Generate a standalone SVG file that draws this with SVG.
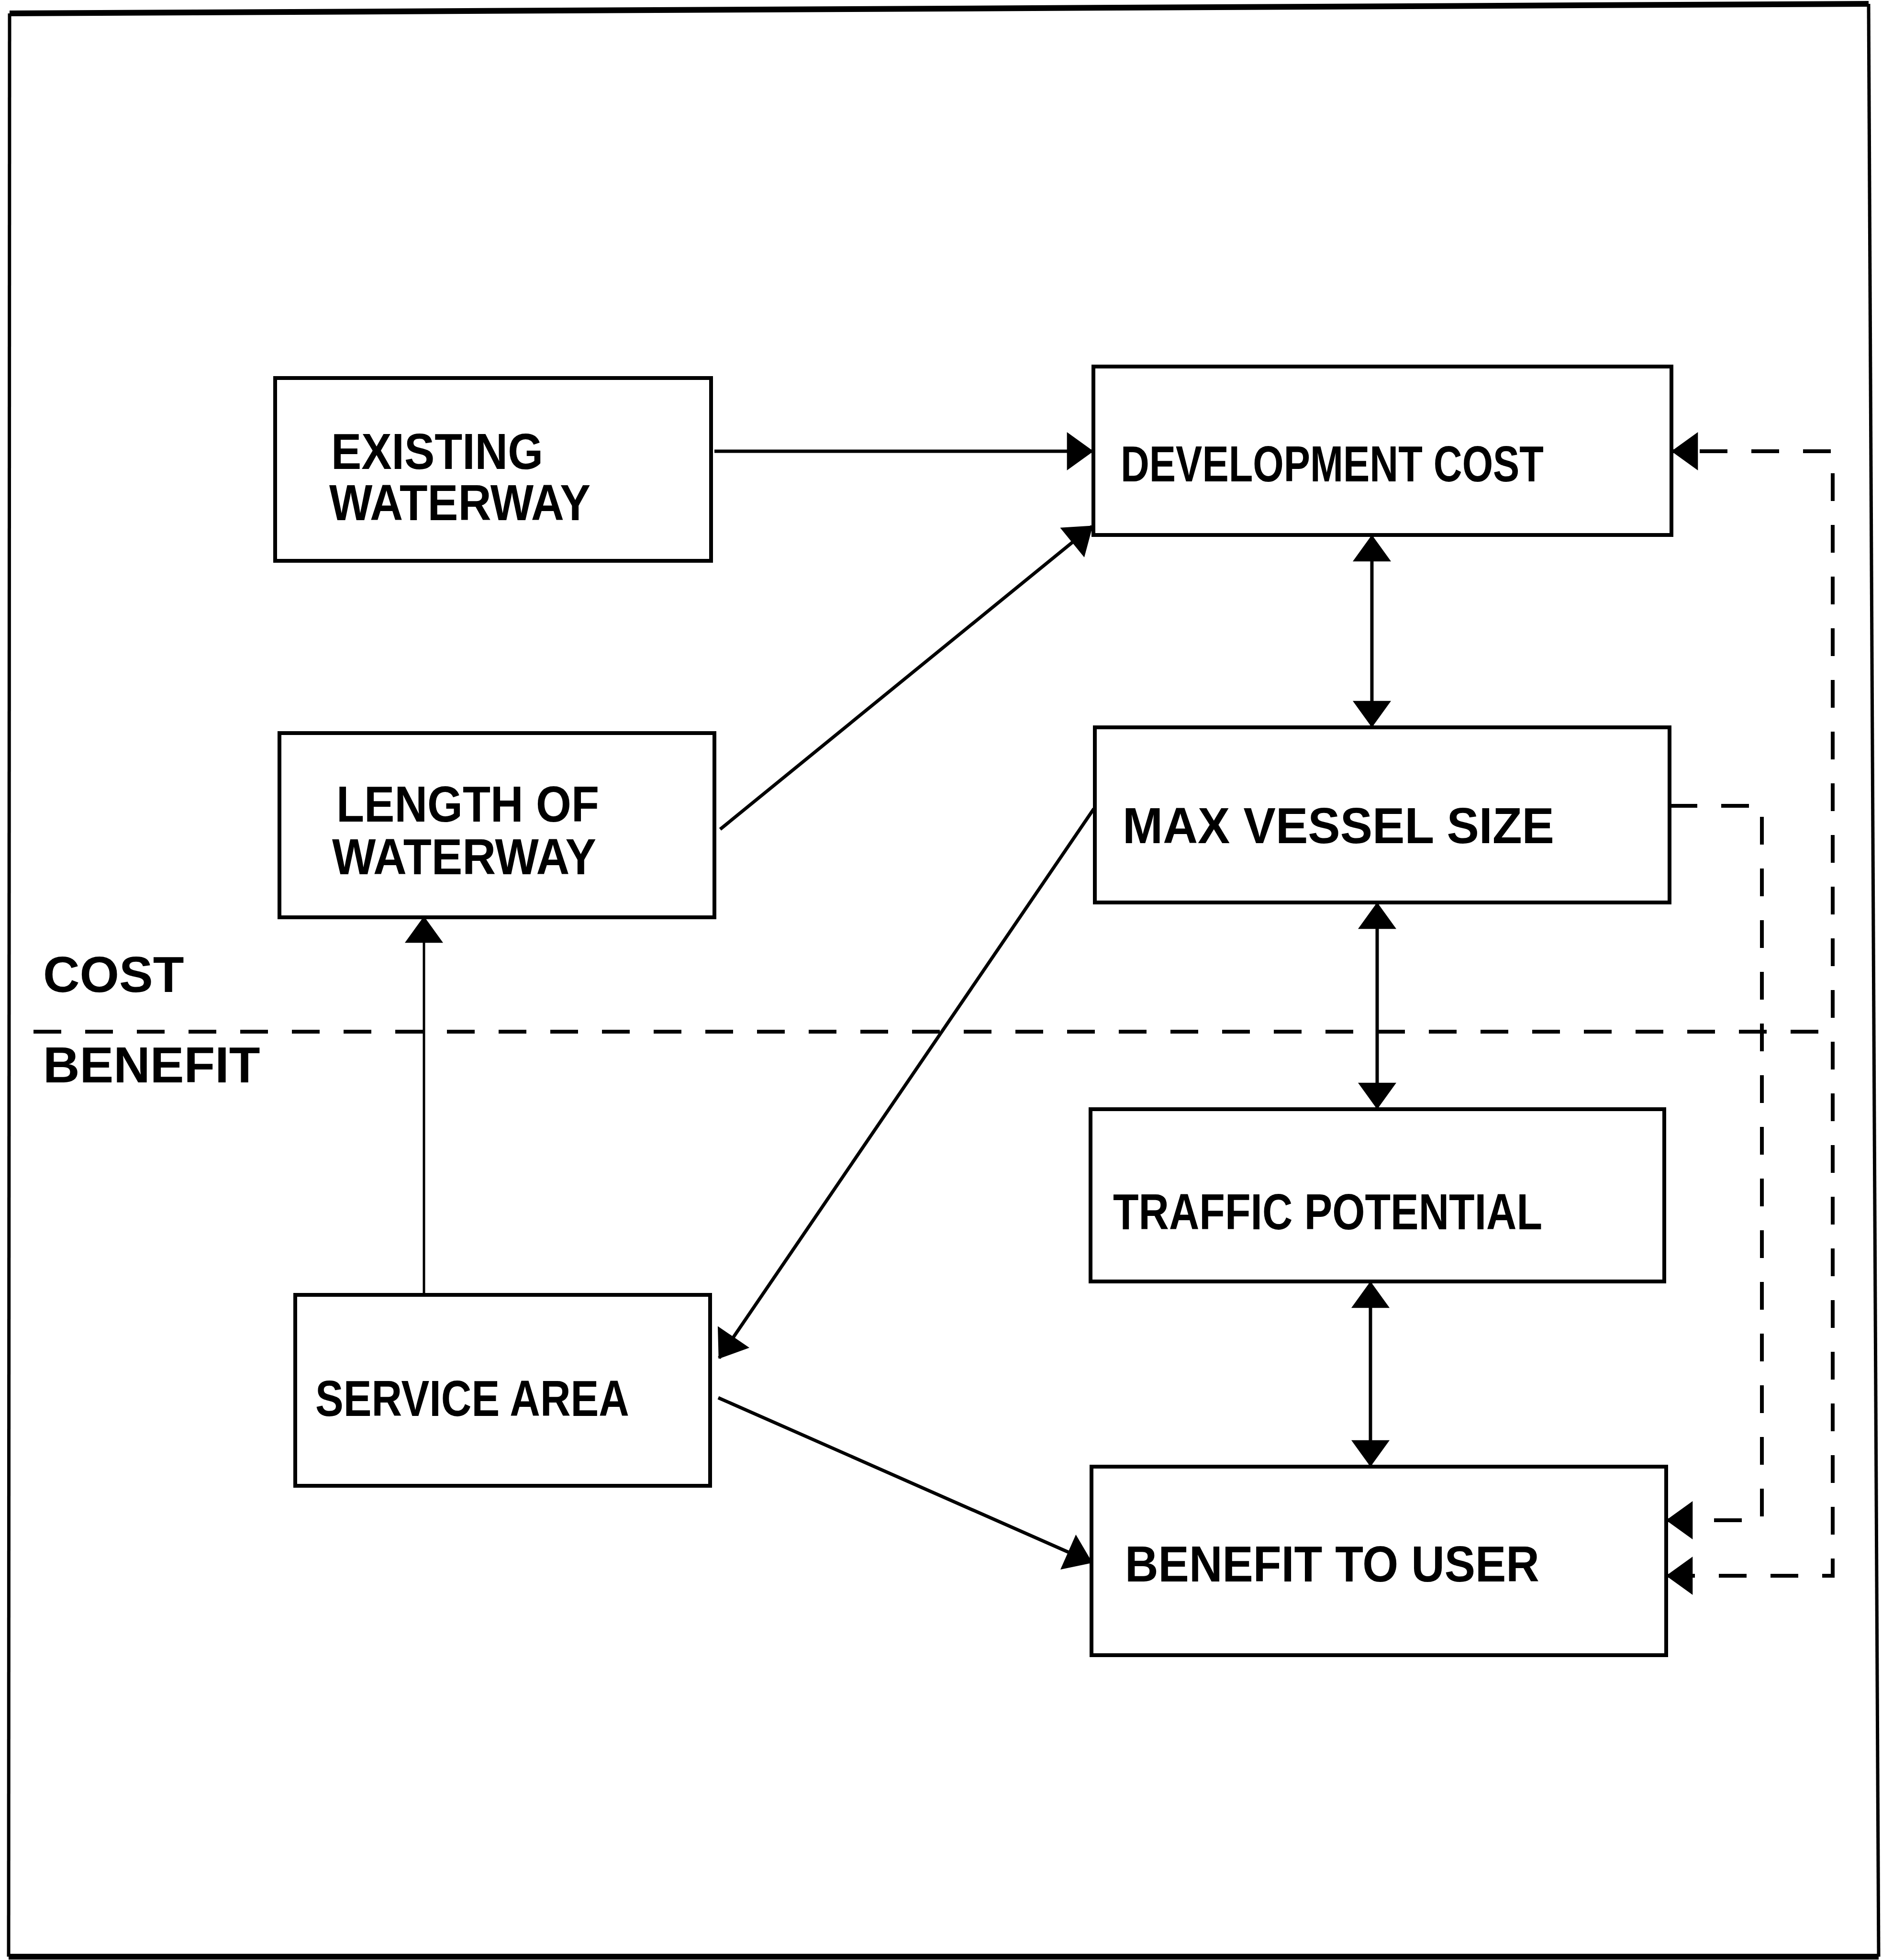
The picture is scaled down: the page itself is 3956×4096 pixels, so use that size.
<svg xmlns="http://www.w3.org/2000/svg" width="3956" height="4096" viewBox="0 0 3956 4096">
<defs>
<style>
.box{fill:#fff;stroke:#000;stroke-width:8}
.t{font-family:"Liberation Sans",Arial,sans-serif;font-weight:bold;font-size:106px;fill:#000}
.ln{fill:none;stroke:#000;stroke-width:7}
.thin{fill:none;stroke:#000;stroke-width:5}
.dash{fill:none;stroke:#000;stroke-width:8;stroke-dasharray:58 50}
.frame{fill:none;stroke:#000}
</style>
<marker id="ah" markerUnits="userSpaceOnUse" markerWidth="60" markerHeight="80" viewBox="0 0 50 72" refX="48" refY="36" orient="auto-start-reverse">
<path d="M0,0 L50,36 L0,72 Z" fill="#000"/>
</marker>
</defs>
<rect width="3956" height="4096" fill="#fff"/>
<g id="frame">
<line class="frame" x1="20" y1="28" x2="3905" y2="8" stroke-width="12"/>
<line class="frame" x1="3905" y1="8" x2="3926" y2="4089" stroke-width="7"/>
<line class="frame" x1="3926" y1="4089" x2="18" y2="4089" stroke-width="12"/>
<line class="frame" x1="18" y1="4089" x2="20" y2="28" stroke-width="7"/>
</g>
<g id="connectors">
<path class="ln" d="M1493,943 H2283" marker-end="url(#ah)"/>
<path class="ln" d="M1505,1733 L2282,1100" marker-end="url(#ah)"/>
<path class="ln" d="M2867,1120 V1518" marker-start="url(#ah)" marker-end="url(#ah)"/>
<path class="ln" d="M2878,1888 V2316" marker-start="url(#ah)" marker-end="url(#ah)"/>
<path class="ln" d="M2864,2680 V3063" marker-start="url(#ah)" marker-end="url(#ah)"/>
<path class="ln" d="M2286,1690 L1503,2838" marker-end="url(#ah)"/>
<path class="ln" d="M1501,2921 L2281,3265" marker-end="url(#ah)"/>
<path class="thin" d="M886,2706 V1917" marker-end="url(#ah)"/>
<path class="dash" d="M3489,1684 H3682 V3177 H3484" marker-end="url(#ah)"/>
<path class="dash" d="M3484,3293 H3830 V943 H3495" marker-start="url(#ah)" marker-end="url(#ah)"/>
<path class="dash" d="M70,2156 H3830"/>
</g>
<g id="existing-waterway">
<rect class="box" x="575" y="790" width="911" height="382"/>
<text class="t" x="692" y="980" textLength="443" lengthAdjust="spacingAndGlyphs">EXISTING</text>
<text class="t" x="688" y="1087" textLength="546" lengthAdjust="spacingAndGlyphs">WATERWAY</text>
</g>
<g id="development-cost">
<rect class="box" x="2285" y="766" width="1208" height="352"/>
<text class="t" x="2342" y="1006" textLength="884" lengthAdjust="spacingAndGlyphs">DEVELOPMENT COST</text>
</g>
<g id="length-of-waterway">
<rect class="box" x="584" y="1532" width="909" height="385"/>
<text class="t" x="703" y="1717" textLength="549" lengthAdjust="spacingAndGlyphs">LENGTH OF</text>
<text class="t" x="694" y="1827" textLength="552" lengthAdjust="spacingAndGlyphs">WATERWAY</text>
</g>
<g id="max-vessel-size">
<rect class="box" x="2288" y="1520" width="1201" height="366"/>
<text class="t" x="2346" y="1762" textLength="902" lengthAdjust="spacingAndGlyphs">MAX VESSEL SIZE</text>
</g>
<g id="cost-benefit-labels">
<text class="t" x="90" y="2073">COST</text>
<text class="t" x="90" y="2262">BENEFIT</text>
</g>
<g id="traffic-potential">
<rect class="box" x="2279" y="2318" width="1199" height="360"/>
<text class="t" x="2326" y="2569" textLength="897" lengthAdjust="spacingAndGlyphs">TRAFFIC POTENTIAL</text>
</g>
<g id="service-area">
<rect class="box" x="617" y="2706" width="867" height="399"/>
<text class="t" x="659" y="2959" textLength="656" lengthAdjust="spacingAndGlyphs">SERVICE AREA</text>
</g>
<g id="benefit-to-user">
<rect class="box" x="2281" y="3065" width="1201" height="394"/>
<text class="t" x="2351" y="3305" textLength="866" lengthAdjust="spacingAndGlyphs">BENEFIT TO USER</text>
</g>
</svg>
